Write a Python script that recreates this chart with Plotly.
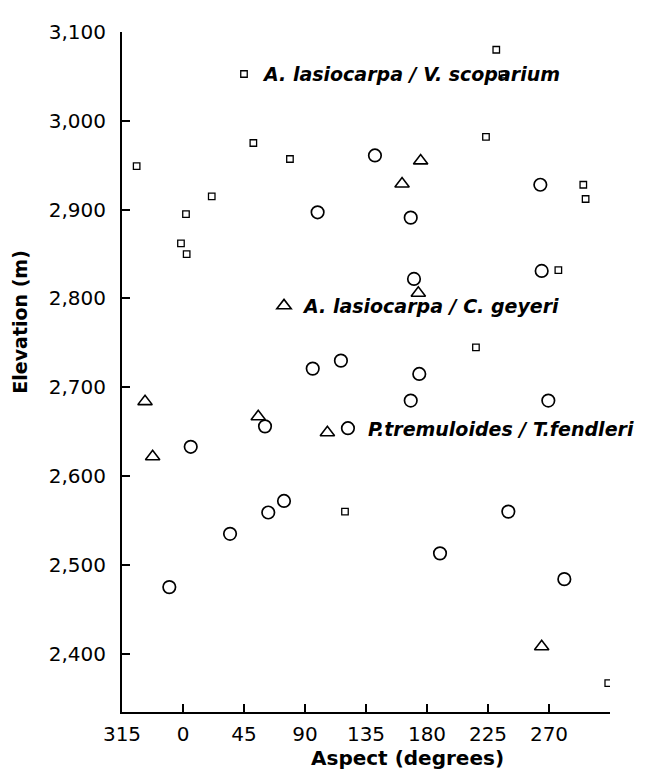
import plotly.graph_objects as go

# ---- data (aspect in compass degrees, elevation in m) ----
sq_aspect = [325.8, 51.9, 78.9, 21.2, 2.2, 358.5, 2.7, 231.1, 235.8, 223.5,
             295.3, 297.0, 276.9, 216.1, 119.5, 313.7]
sq_elev = [2949, 2975, 2957, 2915, 2895, 2862, 2850, 3080, 3052, 2982,
           2928, 2912, 2832, 2745, 2560, 2367]

tri_aspect = [175.3, 161.6, 173.6, 332.0, 55.5, 106.5, 337.6, 264.6]
tri_elev = [2955, 2929, 2806, 2684, 2667, 2649, 2622, 2408]

cir_aspect = [141.6, 99.3, 168.0, 263.6, 170.4, 264.6, 95.7, 116.5, 174.3, 168.0,
              269.5, 60.5, 5.7, 74.5, 62.9, 34.7, 349.9, 240.0, 189.6, 281.3]
cir_elev = [2961, 2897, 2891, 2928, 2822, 2831, 2721, 2730, 2715, 2685,
            2685, 2656, 2633, 2572, 2559, 2535, 2475, 2560, 2513, 2484]

names = ["A. lasiocarpa / V. scoparium", "A. lasiocarpa / C. geyeri",
         "P.tremuloides / T.fendleri"]

x_tickvals = [-45, 0, 45, 90, 135, 180, 225, 270, 315]
x_ticktext = ["315", "0", "45", "90", "135", "180", "225", "270", ""]
y_tickvals = [2400, 2500, 2600, 2700, 2800, 2900, 3000, 3100]


def to_axis(a):
    # aspects of 315 deg and above are drawn left of north (0)
    return [v - 360 if v > 315 else v for v in a]


FONT = "DejaVu Sans"

fig = go.Figure()
fig.add_trace(go.Scatter(
    x=to_axis(sq_aspect), y=sq_elev, mode="markers", name=names[0],
    legend="legend", showlegend=True,
    marker=dict(symbol="square-open", size=6.5, color="black",
                line=dict(width=1.3, color="black"))))
fig.add_trace(go.Scatter(
    x=to_axis(tri_aspect), y=tri_elev, mode="markers", name=names[1],
    legend="legend2", showlegend=True,
    marker=dict(symbol="triangle-up-open", size=12.5, color="black",
                line=dict(width=1.6, color="black"))))
fig.add_trace(go.Scatter(
    x=to_axis(cir_aspect), y=cir_elev, mode="markers", name=names[2],
    legend="legend3", showlegend=True,
    marker=dict(symbol="circle-open", size=12.5, color="black",
                line=dict(width=1.7, color="black"))))

legend_font = dict(family=FONT, size=19, color="black", style="italic",
                   weight="bold")
common_leg = dict(xanchor="left", yanchor="middle", bgcolor="rgba(0,0,0,0)",
                  borderwidth=0, font=legend_font, itemclick=False)

# the page body has an 8px default margin; the figure is sized to fit the window
fig.update_layout(
    width=649, height=764,
    showlegend=True,
    margin=dict(l=114, r=47, t=13, b=60),
    paper_bgcolor="white", plot_bgcolor="white",
    font=dict(family=FONT, color="black"),
    legend=dict(x=0.209, y=0.938, **common_leg),
    legend2=dict(x=0.291, y=0.5973, **common_leg),
    legend3=dict(x=0.422, y=0.4171, **common_leg),
    xaxis=dict(range=[-45, 315], tickvals=x_tickvals, ticktext=x_ticktext,
               showgrid=False, zeroline=False, showline=True,
               linecolor="black", linewidth=2, ticks="inside", ticklen=8,
               tickwidth=2, tickcolor="black",
               tickfont=dict(family=FONT, size=20, color="black"),
               ticklabelstandoff=3),
    yaxis=dict(range=[2334.4, 3100], tickvals=y_tickvals, tickformat=",",
               showgrid=False, zeroline=False, showline=True,
               linecolor="black", linewidth=2, ticks="inside", ticklen=8,
               tickwidth=2, tickcolor="black",
               tickfont=dict(family=FONT, size=20, color="black"),
               ticklabelstandoff=10),
    annotations=[
        dict(text="<b>Aspect (degrees)</b>", xref="paper", yref="paper",
             x=0.585, y=-0.068, xanchor="center", yanchor="middle",
             showarrow=False, font=dict(family=FONT, size=20, color="black")),
        dict(text="<b>Elevation (m)</b>", xref="paper", yref="paper",
             x=-0.209, y=0.574, xanchor="center", yanchor="middle",
             textangle=-90, showarrow=False,
             font=dict(family=FONT, size=19, color="black")),
    ],
)

fig.write_html("out.html")
